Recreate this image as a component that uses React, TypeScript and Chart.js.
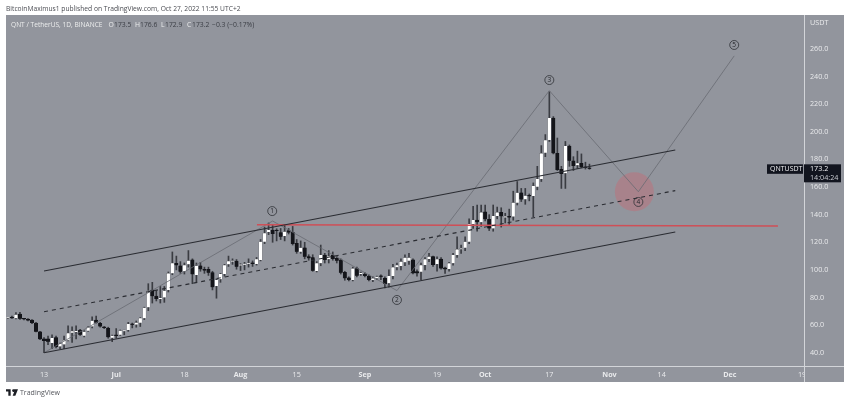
import { useEffect, useRef } from 'react'
import { Chart, registerables } from 'chart.js'

Chart.register(...registerables)

const FONT = '"Open Sans", sans-serif'

// daily candles, first one is 9 days before Jun 13
const firstDay = -9
const opens = [
  65, 65.8, 65, 68, 64.8, 64.4, 63.7, 61.5, 55.2, 50,
  50, 47, 51, 44.5, 46, 49, 54.5, 55, 56.4, 52.3,
  56, 59, 63.7, 61.3, 58.6, 57.9, 50.9, 52.8, 53, 55.6,
  56.5, 60.8, 60.4, 61.8, 65, 72.9, 85.4, 81, 79, 80,
  85.4, 97.5, 104.8, 103, 99, 104, 107.2, 96.3, 103, 100.4,
  100.4, 98, 88.4, 93.2, 97, 104, 106, 106.3, 103.2, 103.7,
  104.4, 105.2, 104.3, 107.2, 120.4, 127.4, 128.9, 128.8, 127, 124.5,
  128.4, 127.2, 119.3, 113.2, 116, 109.6, 109, 99.2, 104.8, 110.8,
  107.8, 110.8, 108.4, 107.2, 98.2, 94.3, 92.7, 101, 97, 97,
  95.6, 92.7, 93.9, 95.2, 93.9, 90.3, 95.6, 101.9, 102.8, 105.5,
  106.7, 107.2, 98.7, 98.7, 103.5, 107.9, 109.6, 104.3, 107.9, 101.5,
  100.6, 104.8, 110.8, 114.9, 116, 120.4, 133.2, 136.1, 134.5, 142,
  136.6, 130, 139, 141.6, 138, 138.4, 138.6, 148.7, 155.9, 151.1,
  153.7, 153.5, 160.3, 165.8, 184.9, 194, 210, 184.4, 172.9, 170,
  189.7, 179, 175.8, 177.2, 174.2, 173.5,
]
const highs = [
  65.6, 66.5, 69, 69.3, 65, 64.8, 64, 62, 55.5, 51,
  52, 53, 52, 47, 52, 59.5, 58.7, 59.5, 57, 56,
  59, 66, 66.5, 62, 59, 58.5, 52.8, 57.5, 56.5, 56.3,
  62, 61.5, 63, 65.5, 73, 90, 91, 85, 88, 88,
  98.5, 113, 110, 106, 105, 114, 108, 105, 105.5, 102,
  102, 99, 93.5, 97.5, 104, 110, 108, 107.5, 104.5, 105.5,
  108, 106.5, 109, 122, 131, 134, 133, 129.8, 130, 133,
  130, 131.5, 122, 121, 120, 111, 111, 106, 118, 112,
  114, 113, 110, 108, 99, 95, 102, 102, 98.5, 98,
  96.5, 95, 95.5, 96.5, 95, 100, 104, 105, 108, 111,
  112, 108, 100, 105, 109, 112, 110, 109.5, 109, 102,
  105.5, 112, 124, 118, 124, 137, 146, 147, 147, 147,
  140, 147, 145.5, 145, 141, 144, 157, 164, 159, 159,
  155, 163, 175, 190, 198, 229, 211, 195.5, 175, 193,
  190.5, 182, 186, 184, 178, 176.6,
]
const lows = [
  64.6, 64.8, 64.5, 64.2, 63.8, 63, 61, 55, 49.5, 40,
  45.8, 43, 43.5, 43, 43, 48.5, 47.5, 50, 52.5, 51.5,
  55.5, 58, 61.5, 58.5, 57.5, 50.5, 48, 50.5, 52.5, 53,
  55.5, 58, 58.5, 59, 64, 70.5, 76, 77.5, 76, 76.5,
  84, 96.5, 100, 97.5, 97, 102, 90, 91, 99, 97.5,
  96, 85.5, 79.5, 91, 95.5, 102.5, 104, 100.5, 99.5, 100,
  102, 102.5, 103.5, 106.5, 119, 125.5, 120, 121, 122, 121,
  126, 118, 112, 112, 108, 107, 99, 98.5, 103, 105,
  105, 107, 105, 97, 92.5, 92, 92, 95, 96, 95,
  92, 91.5, 93, 93, 87, 87.5, 93.5, 100, 100, 103,
  104, 97, 95.5, 93, 100, 106, 102.5, 99, 100.5, 97.5,
  99, 103.5, 109, 112, 114, 119, 130, 128, 131.5, 135.5,
  128.5, 128, 137, 131, 134, 133, 136, 147, 149.5, 147.5,
  150, 138.5, 158, 164, 182, 193, 184, 172, 159, 159,
  175, 172, 173.5, 174, 173, 172.9,
]
const closes = [
  65.3, 65, 67.6, 64.7, 64.2, 63.4, 61.5, 55.2, 49.8, 48.5,
  48, 50.7, 44.2, 46.5, 49, 54.2, 55.7, 55.3, 53, 55.2,
  58.4, 63.2, 61.8, 59, 58, 51.2, 52.3, 52.2, 56, 55.8,
  60.8, 60.2, 61.8, 65, 72.6, 84.9, 81, 79, 79.6, 84.9,
  97.5, 104.8, 103.3, 98.7, 103.5, 106.7, 96.8, 103, 100.4, 99.5,
  98, 87.4, 92.7, 97, 103.5, 106.3, 106.5, 102.3, 103.5, 104.2,
  105, 104.2, 107.7, 120.4, 126.5, 128.9, 126, 128.2, 124, 127.7,
  127, 118.8, 113.2, 116, 109.6, 108.4, 99.4, 104.8, 110.8, 107.2,
  110, 107.9, 106.7, 98, 93.9, 92.7, 101, 95.7, 97.5, 95.6,
  92.7, 93.9, 95, 95, 89.8, 95.6, 101.9, 103.5, 106, 108.9,
  108.9, 97.5, 97.5, 103.5, 107.7, 109.6, 103.5, 107.7, 101, 100.4,
  104.8, 110.8, 114.9, 115.6, 120.4, 133.2, 136.1, 134.5, 141.6, 136.6,
  130, 139, 141.6, 138.8, 138, 138, 148.7, 155.9, 151, 153.8,
  153.3, 160.8, 165.8, 184.4, 194, 210, 184.4, 172.3, 169.4, 189.7,
  179, 175.3, 177.2, 174.3, 174, 173.2,
]

// drawings: [day, price]
const upperChannel = [[0, 99.2], [157.4, 186.8]]
const middleChannel = [[0, 69.7], [157.4, 157.4]]
const lowerChannel = [[0, 40], [157.4, 127.5]]
const redLine = [[53.1, 132.7], [183, 131.8]]
const wavePath = [[0, 40], [57, 135.4], [88, 85], [126, 229.8], [148.2, 156.6], [172.1, 255]]
const waveMarks = [[56.9, 142.6], [88, 78.2], [126, 237.5], [148.2, 149.2], [172.1, 262.9]]
const waveNames = ['1', '2', '3', '4', '5']
const targetZone = [[147.2, 156.6]]

const xTickDays = [0, 18, 35, 49, 63, 80, 98, 110, 126, 141, 154, 171, 189]
const xTickNames = ['13', 'Jul', '18', 'Aug', '15', 'Sep', '19', 'Oct', '17', 'Nov', '14', 'Dec', '19']
const yTicks = [40, 60, 80, 100, 120, 140, 160, 180, 200, 220, 240, 260]
const lastPrice = 173.2

const legendTexts = ['O', '173.5', 'H', '176.6', 'L', '172.9', 'C', '173.2', '−0.3 (−0.17%)']
const legendLefts = [108.5, 114, 135, 140, 161, 165, 187, 192, 212]

const PANE = '#92959d'
const RULE = '#d3d5d9'
const TICK = '#e9eaec'

const toPoints = (rows: number[][]) => rows.map(([x, y]) => ({ x, y }))

const panePlugin = {
  id: 'pane',
  beforeDraw(chart: any) {
    const c = chart.ctx
    c.save()
    c.fillStyle = PANE
    c.fillRect(6, 15, 838, 367)
    c.restore()
  },
  afterDraw(chart: any) {
    const c = chart.ctx
    const { x, y } = chart.scales
    c.save()
    // the last date label is cut off by the price axis
    c.fillStyle = PANE
    c.fillRect(x.right, y.bottom + 1, 40, 15)
    c.fillStyle = RULE
    c.fillRect(x.right, 15, 1, 367)
    c.fillRect(6, y.bottom, 838, 1)

    c.font = `7.2px ${FONT}`
    c.fillStyle = TICK
    c.textBaseline = 'middle'
    c.textAlign = 'left'
    c.fillText('USDT', x.right + 6, 23)

    // wave numbers
    const marks = chart.getDatasetMeta(chart.data.datasets.findIndex((d: any) => d.label === 'waves'))
    c.fillStyle = '#26282d'
    c.textAlign = 'center'
    c.font = `6.5px ${FONT}`
    marks.data.forEach((el: any, i: number) => c.fillText(waveNames[i], el.x, el.y + 0.5))

    // last price tags
    const py = y.getPixelForValue(lastPrice)
    c.fillStyle = '#12151f'
    c.fillRect(767, py - 4.5, 36, 9.5)
    c.fillRect(x.right, py - 4.5, 37, 18)
    c.fillStyle = '#f2f2f4'
    c.textAlign = 'left'
    c.font = `7px ${FONT}`
    c.fillText('QNTUSDT', 770, py + 0.5)
    c.font = `7.2px ${FONT}`
    c.fillText(String(lastPrice), x.right + 6, py + 0.5)
    c.fillStyle = '#c9cbd1'
    c.fillText('14:04:24', x.right + 6, py + 9)
    c.restore()
  },
}

export default function App() {
  const canvasRef = useRef<HTMLCanvasElement>(null)

  useEffect(() => {
    if (!canvasRef.current) return
    const days = opens.map((_, i) => firstDay + i)
    const channelStyle = { type: 'line', pointRadius: 0, borderColor: '#2a2c32', borderWidth: 1.1, fill: false, order: 1 }

    const chart = new Chart(canvasRef.current, {
      type: 'bar',
      data: {
        datasets: [
          {
            type: 'bar',
            label: 'wicks',
            data: days.map((x, i) => ({ x, y: [lows[i], highs[i]] })),
            backgroundColor: '#3a3c42',
            barThickness: 1,
            grouped: false,
            order: 6,
          },
          {
            type: 'bar',
            label: 'bodies',
            data: days.map((x, i) => ({ x, y: [opens[i], closes[i]] })),
            backgroundColor: days.map((_, i) => (closes[i] >= opens[i] ? '#ffffff' : '#14151a')),
            borderColor: days.map((_, i) => (closes[i] >= opens[i] ? '#55575d' : '#14151a')),
            borderWidth: 0.4,
            barThickness: 3.4,
            minBarLength: 1,
            grouped: false,
            order: 5,
          },
          { ...channelStyle, label: 'upper', data: toPoints(upperChannel) },
          { ...channelStyle, label: 'middle', data: toPoints(middleChannel), borderDash: [4, 4] },
          { ...channelStyle, label: 'lower', data: toPoints(lowerChannel) },
          {
            type: 'line',
            label: 'red',
            data: toPoints(redLine),
            pointRadius: 0,
            borderColor: '#cf4f57',
            borderWidth: 1.6,
            order: 2,
          },
          {
            type: 'line',
            label: 'wave',
            data: toPoints(wavePath),
            pointRadius: 0,
            borderColor: '#686b72',
            borderWidth: 0.8,
            order: 3,
          },
          {
            type: 'line',
            label: 'waves',
            data: toPoints(waveMarks),
            showLine: false,
            pointRadius: 4.5,
            pointBackgroundColor: 'rgba(0,0,0,0)',
            pointBorderColor: '#2f3136',
            pointBorderWidth: 0.8,
            order: 0,
          },
          {
            type: 'line',
            label: 'zone',
            data: toPoints(targetZone),
            showLine: false,
            pointRadius: 19.5,
            pointBackgroundColor: 'rgba(200,105,115,0.42)',
            pointBorderWidth: 0,
            order: 4,
          },
        ] as any,
      },
      options: {
        responsive: false,
        animation: false,
        // the big zone marker would otherwise push the plot area in
        layout: { autoPadding: false, padding: { left: 6, top: 15, right: 6, bottom: 21 } },
        plugins: { legend: { display: false }, tooltip: { enabled: false } },
        scales: {
          x: {
            type: 'linear',
            offset: false,
            min: -9.48,
            max: 189.5,
            grid: { display: false, drawTicks: false },
            border: { display: false },
            afterBuildTicks: (s: any) => { s.ticks = xTickDays.map(value => ({ value })) },
            afterFit: (s: any) => { s.height = 16 },
            ticks: {
              autoSkip: false,
              maxRotation: 0,
              padding: 5,
              color: TICK,
              font: (ctx: any) => ({
                family: FONT,
                size: 7.2,
                weight: /[A-Za-z]/.test(String(ctx.tick?.label)) ? 'bold' : 'normal',
              }),
              callback: (v: any) => xTickNames[xTickDays.indexOf(v)],
            },
          },
          y: {
            type: 'linear',
            position: 'right',
            min: 30.4,
            max: 284.6,
            grid: { display: false, drawTicks: false },
            border: { display: false },
            afterBuildTicks: (s: any) => { s.ticks = yTicks.map(value => ({ value })) },
            afterFit: (s: any) => { s.width = 40 },
            ticks: {
              padding: 6,
              color: TICK,
              font: { family: FONT, size: 7.2 },
              callback: (v: any) => Number(v).toFixed(1),
            },
          },
        },
      } as any,
      plugins: [panePlugin],
    })
    return () => { chart.destroy() }
  }, [])

  return (
    <div style={{ position: 'absolute', left: 0, top: 0, width: 850, height: 403, background: '#fff', fontFamily: FONT }}>
      <canvas ref={canvasRef} width={850} height={403} style={{ display: 'block' }} />
      <div style={{ position: 'absolute', left: 6, top: 4, fontSize: 6.7, lineHeight: '10px', color: '#4a4c52', whiteSpace: 'nowrap' }}>
        BitcoinMaximus1 published on TradingView.com, Oct 27, 2022 11:55 UTC+2
      </div>
      <div style={{ position: 'absolute', left: 11, top: 20, fontSize: 6.6, lineHeight: '10px', color: '#eceded', whiteSpace: 'nowrap' }}>
        QNT / TetherUS, 1D, BINANCE
      </div>
      {legendTexts.map((t, i) => (
        <div
          key={i}
          style={{
            position: 'absolute',
            left: legendLefts[i],
            top: 20,
            fontSize: 6.8,
            lineHeight: '10px',
            whiteSpace: 'nowrap',
            color: i < 8 && i % 2 === 0 ? '#eceded' : '#3b3e45',
          }}
        >
          {t}
        </div>
      ))}
      <svg style={{ position: 'absolute', left: 6, top: 389 }} width={12} height={7} viewBox="0 0 36 20">
        <path d="M0 0h14v20H7V7H0z M22 0h14l-8 20h-8l5-13a4 4 0 1 1-3-7z" fill="#1c1e24" />
      </svg>
      <div style={{ position: 'absolute', left: 20, top: 388, fontSize: 7, lineHeight: '10px', color: '#55575d', whiteSpace: 'nowrap' }}>
        TradingView
      </div>
    </div>
  )
}
